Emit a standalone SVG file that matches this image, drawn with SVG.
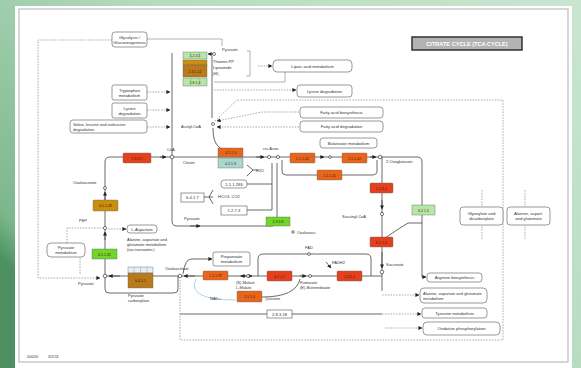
<svg xmlns="http://www.w3.org/2000/svg" width="581" height="368" viewBox="0 0 581 368">
<defs>
<linearGradient id="bg" x1="0" y1="0.7" x2="1" y2="0">
<stop offset="0" stop-color="#4d9163"/>
<stop offset="0.06" stop-color="#7cb78c"/>
<stop offset="0.5" stop-color="#b6dcc0"/>
<stop offset="1" stop-color="#c9e6d0"/>
</linearGradient>
<marker id="ah" markerWidth="4" markerHeight="4" refX="3.6" refY="2" orient="auto" markerUnits="userSpaceOnUse"><path d="M0,0 L4,2 L0,4 z" fill="#222"/></marker>
<style>
.ln{stroke:#444;stroke-width:0.8;fill:none}
.tl{stroke:#666;stroke-width:0.5;fill:none}
.dl{stroke:#777;stroke-width:0.6;fill:none;stroke-dasharray:1.6 1.2}
.bl{stroke:#9cc6e8;stroke-width:0.8;fill:none}
.map{fill:#fff;stroke:#555;stroke-width:0.6}
.ebox{stroke:#666;stroke-width:0.4}
.red{fill:#e5401e}
.ora{fill:#e8661c}
.brn{fill:#b97a1c}
.olv{fill:#c8900e}
.grn{fill:#6fd62a}
.lgr{fill:#b5e8a8}
.lbl{fill:#a8d8cf}
.t{font-family:"Liberation Sans",Arial,sans-serif;font-size:4px;fill:#333}
.e{font-family:"Liberation Sans",Arial,sans-serif;font-size:3.6px;fill:#5a1500;text-anchor:middle}
.m{font-family:"Liberation Sans",Arial,sans-serif;font-size:4.2px;fill:#333;text-anchor:middle}
.c{fill:#fff;stroke:#222;stroke-width:0.6}
</style>
</defs>

<rect x="0" y="0" width="581" height="368" fill="url(#bg)"/>
<rect x="15" y="6" width="557" height="362" fill="#fff"/>
<rect x="19" y="9" width="549" height="353" fill="none" stroke="#bdbdbd" stroke-width="1.2"/>

<g id="connectors">
<path class="ln" d="M105,276 V162 Q105,157 110,157 H417 Q422,157 422,162 V277 H426" marker-end="url(#ah)"/>
<path class="ln" d="M382,157 V276"/>
<path class="ln" d="M105,276 H382"/>
<path class="ln" d="M105,276 V289 Q105,293 109,293 H174 Q178,293 178,289 V276"/>
<path class="ln" d="M282,160 V171 Q282,175 286,175 H372 Q377,175 377,171 V160"/>
<path class="ln" d="M172,53 V157"/>
<path class="ln" d="M172,157 V221 Q172,226 177,226 H273"/>
<path class="ln" d="M190,226 H200" marker-end="url(#ah)"/>
<path class="ln" d="M212,56 V118"/>
<path class="ln" d="M213,128 C213,140 216,146 222,149"/>
<path class="ln" d="M277,163 V217"/>
<path class="ln" d="M272,163 V210 H247"/>
<path class="ln" d="M272,184 H247"/>
<path class="ln" d="M247,165 L253,170 L247,176 M253,170 H258"/>
<path class="ln" d="M204,197 H213 M213,190 L209,197 L213,204"/>
<path class="ln" d="M258,276 V259 Q258,254 263,254 H366 Q371,254 371,259 V276"/>
<path class="ln" d="M183,274 Q185,259 191,259 H212" marker-end="url(#ah)"/>
<path class="bl" d="M196,279 Q186,300 236,300"/>
<path class="ln" d="M262,297 Q296,297 300,279"/>
<path class="ln" d="M382,240 L400,228 L408,223 H422"/>
<path class="ln" d="M326,262 L331,268" marker-end="url(#ah)"/>
<path class="ln" d="M180,314 H382"/>
<path class="ln" d="M382,276 V291"/>
<path class="tl" d="M147,39 H222 V46"/>
<path class="ln" d="M214,54 H208" marker-end="url(#ah)"/>
<path class="tl" d="M247,51 H250 V76 H246"/>
<path class="tl" d="M285,72 V82 H214"/>
<path class="dl" d="M258,66 H272" marker-end="url(#ah)"/>
<path class="dl" d="M214,90 H296" marker-end="url(#ah)"/>
<path class="dl" d="M112,40 H38 V278 H100" marker-end="url(#ah)"/>
<path class="dl" d="M147,92 H170" marker-end="url(#ah)"/>
<path class="dl" d="M147,110 H170" marker-end="url(#ah)"/>
<path class="dl" d="M147,127 H170" marker-end="url(#ah)"/>
<path class="dl" d="M299,112 H262 L217,121" marker-end="url(#ah)"/>
<path class="dl" d="M299,127 H217" marker-end="url(#ah)"/>
<path class="dl" d="M215,121 L237,100 H503 V340 H180 V280"/>
<path class="dl" d="M67,243 V228 H105"/>
<path class="dl" d="M108,229 H126" marker-end="url(#ah)"/>
<path class="dl" d="M80,258 V274"/>
<path class="dl" d="M382,295 H419" marker-end="url(#ah)"/>
<path class="dl" d="M382,314 H421" marker-end="url(#ah)"/>
<path class="dl" d="M385,328 H422" marker-end="url(#ah)"/>
<path class="dl" d="M482,190 V240"/>
<path class="dl" d="M525,190 V240"/>
<path class="ln" d="M160,157 H166" marker-end="url(#ah)"/>
<path class="ln" d="M256,157 H264" marker-end="url(#ah)"/>
<path class="ln" d="M320,157 H324" marker-end="url(#ah)"/>
<path class="ln" d="M370,157 H376" marker-end="url(#ah)"/>
<path class="ln" d="M382,200 V209" marker-end="url(#ah)"/>
<path class="ln" d="M382,252 V268" marker-end="url(#ah)"/>
<path class="ln" d="M105,200 V192" marker-end="url(#ah)"/>
<path class="ln" d="M105,240 V232" marker-end="url(#ah)"/>
<path class="ln" d="M120,276 H109" marker-end="url(#ah)"/>
<path class="ln" d="M195,276 H184" marker-end="url(#ah)"/>
<path class="ln" d="M240,276 H252" marker-end="url(#ah)"/>
<path class="ln" d="M300,276 H306" marker-end="url(#ah)"/>
<path class="ln" d="M245,276 H241" marker-end="url(#ah)"/>
</g>

<g id="title">
<rect x="412" y="37" width="110" height="13" fill="#b3b3b3" stroke="#333" stroke-width="1.5"/>
<text x="467" y="45.6" font-family="Liberation Sans,Arial,sans-serif" font-size="5.6" font-weight="bold" fill="#fff" text-anchor="middle">CITRATE CYCLE (TCA CYCLE)</text>
</g>

<g id="map-glycolysis"><rect class="map" x="112" y="32" width="35" height="15" rx="3"/><text class="m" x="129.5" y="38.5">Glycolysis /</text><text class="m" x="129.5" y="43.5">Gluconeogenesis</text></g>
<g id="map-tryptophan"><rect class="map" x="112" y="85" width="35" height="15" rx="2"/><text class="m" x="129.5" y="91.5">Tryptophan</text><text class="m" x="129.5" y="96.5">metabolism</text></g>
<g id="map-lysine-left"><rect class="map" x="112" y="103" width="35" height="15" rx="2"/><text class="m" x="129.5" y="109.5">Lysine</text><text class="m" x="129.5" y="114.5">degradation</text></g>
<g id="map-valine"><rect class="map" x="70" y="120" width="77" height="13" rx="3"/><text class="t" x="73" y="125.5">Valine, leucine and isoleucine</text><text class="t" x="73" y="130.5">degradation</text></g>
<g id="map-lipoic"><rect class="map" x="273" y="60" width="79" height="12" rx="4"/><text class="m" x="312.5" y="67.5">Lipoic acid   metabolism</text></g>
<g id="map-lysdeg"><rect class="map" x="297" y="85" width="55" height="12" rx="3"/><text class="m" x="324.5" y="92.5">Lysine degradation</text></g>
<g id="map-fab"><rect class="map" x="300" y="107" width="83" height="11" rx="3"/><text class="m" x="341.5" y="114">Fatty acid biosynthesis</text></g>
<g id="map-fad"><rect class="map" x="300" y="121" width="83" height="11" rx="3"/><text class="m" x="341.5" y="128">Fatty acid degradation</text></g>
<g id="map-butanoate"><rect class="map" x="320" y="138" width="57" height="10" rx="3"/><text class="m" x="348.5" y="144.5">Butanoate metabolism</text></g>
<g id="map-glyoxylate"><rect class="map" x="460" y="207" width="43" height="18" rx="3"/><text class="m" x="481.5" y="215">Glyoxylate and</text><text class="m" x="481.5" y="220">dicarboxylate</text></g>
<g id="map-alanine-r"><rect class="map" x="507" y="207" width="43" height="18" rx="3"/><text class="m" x="528.5" y="215">Alanine, aspart.</text><text class="m" x="528.5" y="220">and glutamate</text></g>
<g id="map-arginine"><rect class="map" x="427" y="273" width="55" height="9" rx="3"/><text class="m" x="454.5" y="279">Arginine biosynthesis</text></g>
<g id="map-alanine"><rect class="map" x="420" y="288" width="67" height="15" rx="4"/><text class="t" x="423" y="294.5">Alanine, aspartate and glutamate</text><text class="t" x="423" y="299.8">metabolism</text></g>
<g id="map-tyrosine"><rect class="map" x="422" y="308" width="65" height="10" rx="3"/><text class="m" x="454.5" y="314.5">Tyrosine metabolism</text></g>
<g id="map-oxphos"><rect class="map" x="423" y="322" width="77" height="13" rx="4"/><text class="m" x="461.5" y="330">Oxidative  phosphorylation</text></g>
<g id="map-pyruvate"><rect class="map" x="47" y="243" width="38" height="14" rx="4"/><text class="m" x="66" y="249">Pyruvate</text><text class="m" x="66" y="254">metabolism</text></g>
<g id="map-asp"><rect class="map" x="127" y="225" width="30" height="8" rx="3"/><text class="m" x="142" y="230.5">L-Aspartate</text></g>
<g id="note-asp"><text class="t" x="127" y="240.5">Alanine, aspartate and</text><text class="t" x="127" y="245.5">glutamate metabolism</text><text class="t" x="127" y="250.5">(via transamin.)</text></g>
<g id="map-propanoate"><rect class="map" x="213" y="252" width="37" height="14" rx="2"/><text class="m" x="231.5" y="258">Propanoate</text><text class="m" x="231.5" y="263">metabolism</text></g>

<g id="enz-pdh">
<rect class="ebox lgr" x="183" y="52" width="24" height="7"/>
<line x1="191" y1="52" x2="191" y2="59" stroke="#7a7" stroke-width="0.4"/><line x1="199" y1="52" x2="199" y2="59" stroke="#7a7" stroke-width="0.4"/>
<text class="e" x="195" y="57">1.2.4.1</text>
<rect class="ebox olv" x="183" y="60" width="24" height="5"/>
<rect class="ebox brn" x="183" y="65" width="24" height="12"/>
<text class="e" x="195" y="72.5">2.3.1.12</text>
<rect class="ebox lgr" x="183" y="78" width="24" height="8"/>
<line x1="191" y1="78" x2="191" y2="86" stroke="#7a7" stroke-width="0.4"/><line x1="199" y1="78" x2="199" y2="86" stroke="#7a7" stroke-width="0.4"/>
<text class="e" x="195" y="83.5">1.8.1.4</text>
</g>
<g id="enz-cs"><rect class="ebox red" x="123" y="153" width="28" height="10" rx="1"/><text class="e" x="137" y="159.5">2.3.3.1</text></g>
<g id="enz-acn"><rect class="ebox ora" x="218" y="148" width="25" height="9"/><text class="e" x="230.5" y="154">4.2.1.3</text><rect class="ebox lbl" x="218" y="158" width="25" height="10"/><text class="e" x="230.5" y="164.5">4.2.1.3</text></g>
<g id="enz-idh1"><rect class="ebox ora" x="290" y="153" width="25" height="10" rx="1"/><text class="e" x="302.5" y="159.5">1.1.1.42</text></g>
<g id="enz-idh2"><rect class="ebox ora" x="342" y="153" width="25" height="10" rx="1"/><text class="e" x="354.5" y="159.5">1.1.1.42</text></g>
<g id="enz-idh3"><rect class="ebox ora" x="317" y="170" width="25" height="10" rx="1"/><text class="e" x="329.5" y="176.5">1.1.1.41</text></g>
<g id="enz-ogdh"><rect class="ebox red" x="370" y="183" width="23" height="10" rx="1"/><text class="e" x="381.5" y="189.5">1.2.4.2</text></g>
<g id="enz-scs"><rect class="ebox red" x="370" y="237" width="23" height="10" rx="1"/><text class="e" x="381.5" y="243.5">6.2.1.4</text></g>
<g id="enz-scs2"><rect class="ebox lgr" x="412" y="205" width="23" height="10"/><text class="e" x="423.5" y="211.5">6.2.1.5</text></g>
<g id="enz-sdh"><rect class="ebox red" x="337" y="271" width="25" height="10" rx="1"/><text class="e" x="349.5" y="277.5">1.3.5.1</text></g>
<g id="enz-fh"><rect class="ebox red" x="267" y="271" width="25" height="10" rx="1"/><text class="e" x="279.5" y="277.5">4.2.1.2</text></g>
<g id="enz-mdh"><rect class="ebox ora" x="203" y="271" width="25" height="9" rx="1"/><text class="e" x="215.5" y="277">1.1.1.37</text></g>
<g id="enz-mqo"><rect class="ebox ora" x="237" y="291" width="25" height="11" rx="1"/><text class="e" x="249.5" y="298">1.1.5.4</text></g>
<g id="enz-pc">
<rect class="ebox" x="128" y="267" width="25" height="6" fill="#e4eef4"/>
<line x1="134" y1="267" x2="134" y2="273" stroke="#889" stroke-width="0.4"/><line x1="140.5" y1="267" x2="140.5" y2="273" stroke="#889" stroke-width="0.4"/><line x1="147" y1="267" x2="147" y2="273" stroke="#889" stroke-width="0.4"/>
<rect class="ebox brn" x="128" y="273" width="25" height="15"/><text class="e" x="140.5" y="281.5">6.4.1.1</text>
</g>
<g id="enz-pck"><rect class="ebox olv" x="93" y="200" width="25" height="11" rx="1"/><text class="e" x="105.5" y="207">4.1.1.49</text></g>
<g id="enz-pepck"><rect class="ebox grn" x="92" y="249" width="25" height="10"/><text class="e" x="104.5" y="255.5">4.1.1.32</text></g>
<g id="enz-acly"><rect class="ebox grn" x="266" y="217" width="24" height="9"/><text class="e" x="278" y="223">2.3.3.8</text></g>
<g id="enz-w1"><rect class="map" x="221" y="180" width="26" height="8" rx="3"/><text class="m" x="234" y="185.5">1.1.1.286</text></g>
<g id="enz-w2"><rect class="map" x="181" y="193" width="23" height="9"/><text class="m" x="192.5" y="199">6.4.1.7</text></g>
<g id="enz-w3"><rect class="map" x="221" y="206" width="26" height="9"/><text class="m" x="234" y="212">1.2.7.3</text></g>
<g id="enz-w4"><rect class="map" x="267" y="310" width="25" height="8"/><text class="m" x="279.5" y="315.5">2.8.3.18</text></g>

<g id="cpd-pyruvate-top"><circle class="c" cx="214" cy="54" r="1.5"/><text class="t" x="222" y="51">Pyruvate</text></g>
<g id="cofactors"><text class="t" x="213" y="63">Thiamin-PP</text><text class="t" x="213" y="69">Lipoamide</text><text class="t" x="213" y="75">(H)</text></g>
<g id="cpd-acetylcoa"><circle class="c" cx="213" cy="124" r="1.5"/><text class="t" x="181" y="128">Acetyl-CoA</text></g>
<g id="cpd-citrate"><circle class="c" cx="172" cy="157" r="1.8"/><text class="t" x="183" y="164">Citrate</text><text class="t" x="167" y="151">CoA</text></g>
<g id="cpd-isocitrate"><circle class="c" cx="269" cy="157" r="1.6"/><circle class="c" cx="278" cy="157" r="1.6"/><text class="t" x="263" y="150">cis-Acon.</text></g>
<g id="cpd-oxalosucc"><circle class="c" cx="330" cy="157" r="1.4"/></g>
<g id="cpd-2og"><circle class="c" cx="380" cy="157" r="1.8"/><text class="t" x="386" y="163">2-Oxoglutarate</text></g>
<g id="cpd-succoa"><circle class="c" cx="382" cy="214" r="1.6"/><text class="t" x="342" y="218">Succinyl-CoA</text></g>
<g id="cpd-succinate"><circle class="c" cx="382" cy="272" r="1.8"/><text class="t" x="386" y="266">Succinate</text></g>
<g id="cpd-fumarate"><circle class="c" cx="310" cy="276" r="1.5"/><text class="t" x="300" y="284">Fumarate</text><text class="t" x="300" y="289">(E)-Butenedioate</text></g>
<g id="cpd-malate"><circle class="c" cx="248" cy="276" r="1.5"/><text class="t" x="236" y="284">(S)-Malate</text><text class="t" x="236" y="289">L-Malate</text></g>
<g id="cpd-oaa"><circle class="c" cx="180" cy="276" r="1.8"/><text class="t" x="165" y="270">Oxaloacetate</text></g>
<g id="cpd-pyr"><circle class="c" cx="105" cy="276" r="1.8"/><text class="t" x="78" y="285">Pyruvate</text></g>
<g id="cpd-pep"><circle class="c" cx="105" cy="228" r="1.6"/><text class="t" x="79" y="222">PEP</text></g>
<g id="cpd-oaa2"><circle class="c" cx="105" cy="188" r="1.5"/><text class="t" x="73" y="184">Oxaloacetate</text></g>
<g id="cpd-glyox"><text class="t" x="184" y="220">Pyruvate</text><text class="t" x="218" y="198">HCO3- CO2</text><text class="t" x="256" y="172">H2O</text></g>
<g id="cpd-acetate"><circle class="c" cx="293" cy="232" r="1.3"/><text class="t" x="297" y="233.5">Oxalosucc.</text></g>
<g id="cpd-fad"><circle class="c" cx="309" cy="254" r="1.4"/><text class="t" x="305" y="249">FAD</text><text class="t" x="332" y="264">FADH2</text></g>
<g id="cpd-nad"><text class="t" x="210" y="300">NAD+</text><text class="t" x="265" y="300">Quinone</text><text class="t" x="128" y="297">Pyruvate</text><text class="t" x="128" y="302">carboxylase</text></g>

<g id="footer"><text class="t" x="27" y="358">00020</text><text class="t" x="48" y="358">3/2/11</text></g>
</svg>
